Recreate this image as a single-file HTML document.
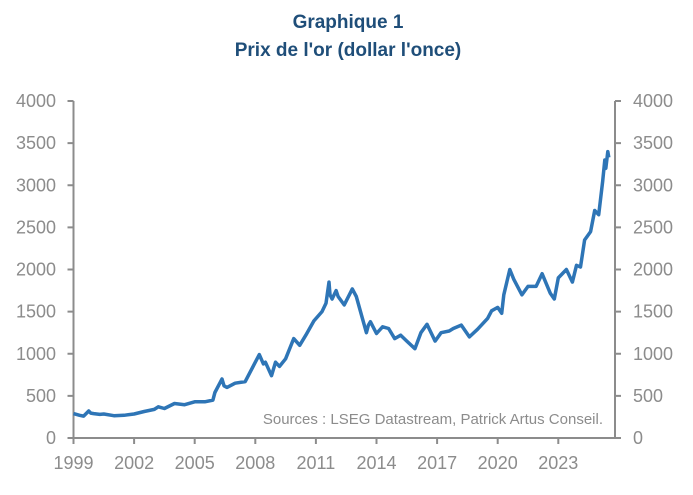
<!DOCTYPE html>
<html><head><meta charset="utf-8">
<style>
body{margin:0;background:#fff;width:693px;height:490px;overflow:hidden}
svg text{font-family:"Liberation Sans Narrow","Liberation Sans",sans-serif}
</style></head><body>
<svg id="chart" width="693" height="490" viewBox="0 0 693 490">
<text x="348" y="28" text-anchor="middle" font-size="19" font-weight="bold" fill="#1f4e79">Graphique 1</text>
<text x="348" y="56" text-anchor="middle" font-size="19" font-weight="bold" fill="#1f4e79">Prix de l'or (dollar l'once)</text>
<g id="axes"></g>
<polyline id="series" fill="none" stroke="#2e75b6" stroke-width="3.5" stroke-linejoin="round"/>
<text x="603" y="424" text-anchor="end" font-size="15" fill="#8c8c8c">Sources : LSEG Datastream, Patrick Artus Conseil.</text>
</svg>
<script>
const years=[1999.0,1999.3,1999.5,1999.75,1999.85,2000,2000.3,2000.5,2001,2001.5,2002,2002.5,2003,2003.2,2003.5,2004,2004.5,2005,2005.5,2005.9,2006,2006.35,2006.45,2006.6,2007,2007.5,2008,2008.2,2008.4,2008.5,2008.8,2009,2009.2,2009.5,2009.9,2010.2,2010.5,2010.9,2011.3,2011.5,2011.65,2011.7,2011.8,2012,2012.1,2012.4,2012.8,2013.0,2013.3,2013.5,2013.6,2013.7,2014,2014.3,2014.6,2014.9,2015.2,2015.5,2015.9,2016.2,2016.5,2016.9,2017.2,2017.6,2017.8,2018.2,2018.6,2019,2019.5,2019.7,2020,2020.2,2020.3,2020.6,2020.8,2021.2,2021.5,2021.9,2022.2,2022.6,2022.8,2023,2023.4,2023.7,2023.9,2024.1,2024.3,2024.6,2024.8,2025.0,2025.2,2025.3,2025.35,2025.45,2025.5];
const prices=[290,270,260,320,295,290,280,285,265,270,285,315,340,370,350,410,395,430,430,450,540,700,620,600,650,670,900,990,880,900,740,900,850,940,1180,1100,1220,1390,1500,1600,1850,1700,1650,1750,1680,1580,1770,1680,1420,1250,1340,1380,1240,1320,1300,1180,1220,1150,1060,1250,1350,1150,1250,1270,1300,1340,1200,1290,1420,1510,1550,1480,1700,2000,1880,1700,1800,1800,1950,1720,1650,1900,2000,1850,2050,2030,2350,2450,2700,2650,3050,3300,3200,3400,3330];
const yTicks=[0,500,1000,1500,2000,2500,3000,3500,4000];
const xTicks=[1999,2002,2005,2008,2011,2014,2017,2020,2023];
const X0=73.5,X1=615,Y0=438,Y1=101;
function xs(y){return X0+(y-1999)*20.2}
function ys(v){return Y0-(v/4000)*(Y0-Y1)}
const NS="http://www.w3.org/2000/svg",ax=document.getElementById('axes');
function mk(t,a,txt){const e=document.createElementNS(NS,t);for(const k in a)e.setAttribute(k,a[k]);if(txt!==undefined)e.textContent=txt;ax.appendChild(e);return e}
const G="#8c8c8c";
let l=mk('line',{x1:X0,y1:Y1,x2:X0,y2:Y0,stroke:G,'stroke-width':2});


l=mk('line',{x1:X1,y1:Y1,x2:X1,y2:Y0,stroke:G,'stroke-width':2});


l=mk('line',{x1:X0,y1:Y0,x2:X1,y2:Y0,stroke:G,'stroke-width':2});


yTicks.forEach(v=>{const y=ys(v);
 mk('line',{x1:X0-6,y1:y,x2:X0,y2:y,stroke:G,'stroke-width':2});
 mk('line',{x1:X1,y1:y,x2:X1+6,y2:y,stroke:G,'stroke-width':2});
 let t=mk('text',{x:56,y:y+6,'text-anchor':'end','font-size':18,fill:G},v);
 
 
 t=mk('text',{x:633,y:y+6,'text-anchor':'start','font-size':18,fill:G},v);
 
 
});
xTicks.forEach(v=>{const x=xs(v);
 mk('line',{x1:x,y1:Y0,x2:x,y2:Y0+6,stroke:G,'stroke-width':2});
 const t=mk('text',{x:x,y:469,'text-anchor':'middle','font-size':18,fill:G},v);
 
 
});
document.getElementById('series').setAttribute('points',years.map((y,i)=>xs(y).toFixed(1)+','+ys(prices[i]).toFixed(1)).join(' '));
</script>
</body></html>
